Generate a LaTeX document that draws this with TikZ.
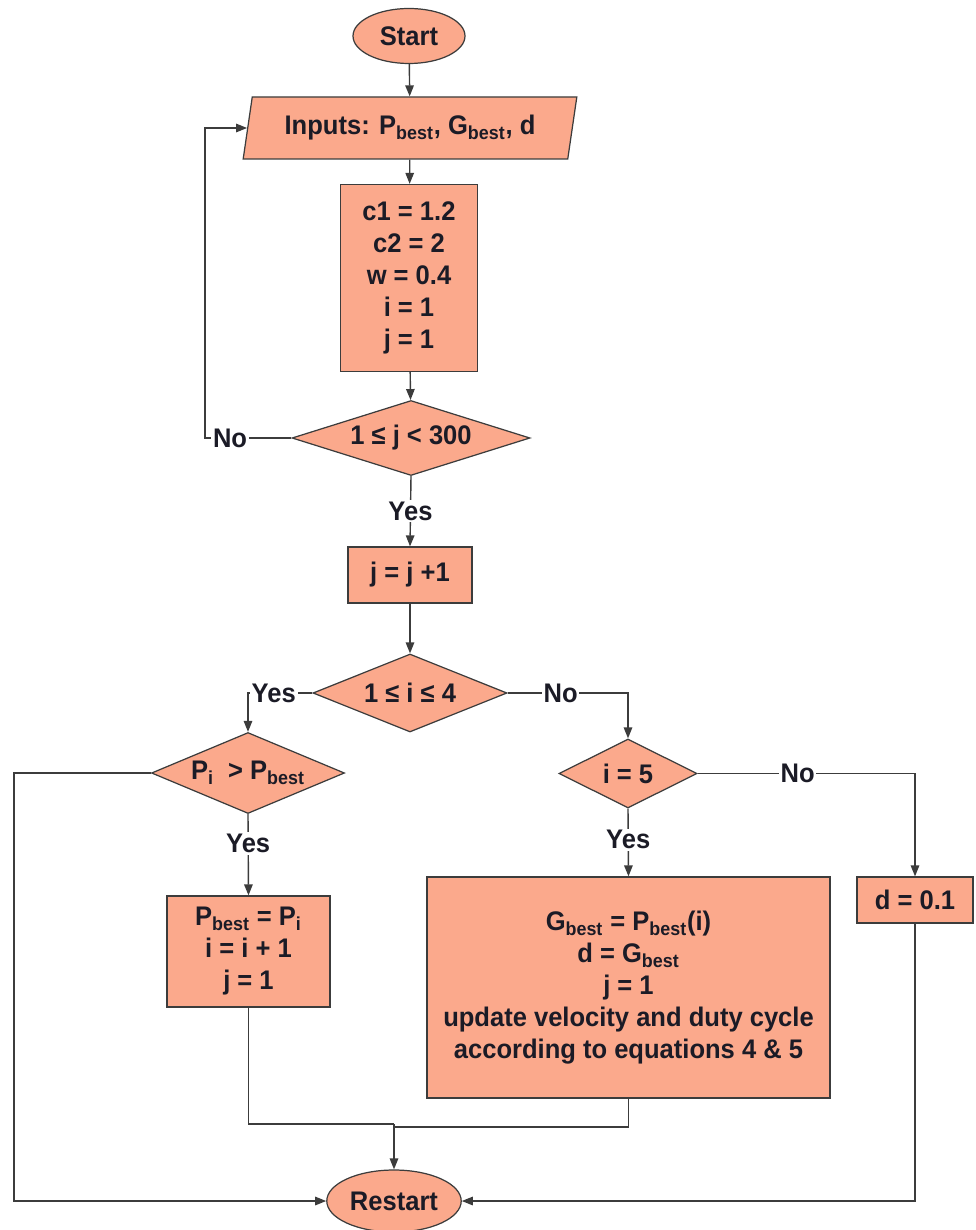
\documentclass[tikz,border=0pt]{standalone}
\usepackage{fontspec}
\setmainfont{Liberation Sans}[FakeStretch=0.95]
\usepackage{tikz}
\usetikzlibrary{arrows.meta,shapes.geometric}
\usepackage{xcolor}
\definecolor{salmon}{HTML}{FBA98C}
\definecolor{edge}{HTML}{3C3C3C}
\definecolor{ink}{HTML}{1B1B26}

\begin{document}
\begin{tikzpicture}[
      box/.style={
        draw=edge, line width=0.7pt, fill=salmon, align=center, text=ink,
        font=\fontsize{15.3}{18.2}\selectfont\bfseries, inner sep=2pt
      },
      terminal/.style={box, ellipse},
      io/.style={box, trapezium, trapezium left angle=77, trapezium right angle=103,
        trapezium stretches=true},
      process/.style={box, rectangle},
      decision/.style={box, diamond, aspect=2.6, inner sep=0pt},
      lbl/.style={fill=white, text=ink, inner sep=1pt,
        font=\fontsize{15.3}{18.2}\selectfont\bfseries},
      line/.style={draw=edge, line width=0.8pt},
      flow/.style={line, -{Triangle[length=2.2mm, width=1.7mm]}}
    ]
    \useasboundingbox (0,0) rectangle (19.5,-24.6);

    \node[terminal, minimum width=2.24cm, minimum height=1.1cm] (start) at (8.18,-0.72) {Start};
    \node[io, minimum width=6.68cm, minimum height=1.24cm] (inputs) at (8.2,-2.56)
      {Inputs: P\textsubscript{best}, G\textsubscript{best}, d};
    \node[process, minimum width=2.74cm, minimum height=3.74cm] (init) at (8.18,-5.56)
      {c1 = 1.2\\ c2 = 2\\ w = 0.4\\ i = 1\\ j = 1};
    \node[decision, minimum width=4.76cm, minimum height=1.5cm] (decj) at (8.22,-8.76)
      {1 ≤ j < 300};
    \node[process, minimum width=2.48cm, minimum height=1.12cm] (jinc) at (8.2,-11.5) {j = j +1};
    \node[decision, minimum width=3.88cm, minimum height=1.56cm] (deci) at (8.2,-13.86)
      {1 ≤ i ≤ 4};
    \node[decision, minimum width=3.86cm, minimum height=1.62cm] (decp) at (4.96,-15.46)
      {P\textsubscript{i} \ > P\textsubscript{best}};
    \node[process, minimum width=3.26cm, minimum height=2.22cm] (upd) at (4.97,-19.03)
      {P\textsubscript{best} = P\textsubscript{i}\\ i = i + 1\\ j = 1};
    \node[decision, minimum width=2.76cm, minimum height=1.38cm] (dec5) at (12.56,-15.47) {i = 5};
    \node[process, minimum width=8.06cm, minimum height=4.42cm] (gbest) at (12.57,-19.75)
      {G\textsubscript{best} = P\textsubscript{best}(i)\\ d = G\textsubscript{best}\\ j = 1\\
       update velocity and duty cycle\\ according to equations 4 \& 5};
    \node[process, minimum width=2.32cm, minimum height=0.92cm] (dset) at (18.3,-18.0) {d = 0.1};
    \node[terminal, minimum width=2.4cm, minimum height=1.24cm] (restart) at (7.88,-24.02) {Restart};

    \coordinate (loop) at (4.1,-8.76);
    \coordinate (lft) at (0.28,-15.46);
    \coordinate (join) at (7.88,-22.48);
    \coordinate (join2) at (7.88,-22.54);

    \draw[flow] (start) -- (inputs);
    \draw[flow] (inputs) -- (init);
    \draw[flow] (init) -- (decj);
    \draw[flow] (decj.west) -- node[lbl, pos=0.71] (nj) {No} (loop) |- (inputs.west);
    \draw[flow] (decj.south) -- node[lbl, pos=0.5] (yj) {Yes} (jinc.north);
    \draw[flow] (jinc) -- (deci);
    \draw[flow] (deci.west) -| node[lbl, pos=0.3] (yi) {Yes} (decp.north);
    \draw[flow] (deci.east) -| node[lbl, pos=0.22] (ni) {No} (dec5.north);
    \draw[flow] (decp.south) -- node[lbl, pos=0.36] (yp) {Yes} (upd.north);
    \draw[flow] (dec5.south) -- node[lbl, pos=0.46] (y5) {Yes} (gbest.north);
    \draw[flow] (dec5.east) -| node[lbl, pos=0.23] (n5) {No} (dset.north);

    \draw[flow] (decp.west) -- (lft) |- (restart.west);
    \draw[flow] (dset.south) |- (restart.east);
    \draw[line] (upd.south) |- (join);
    \draw[line] (gbest.south) |- (join2);
    \draw[flow] (join) -- (restart.north);
  \end{tikzpicture}
\end{document}
